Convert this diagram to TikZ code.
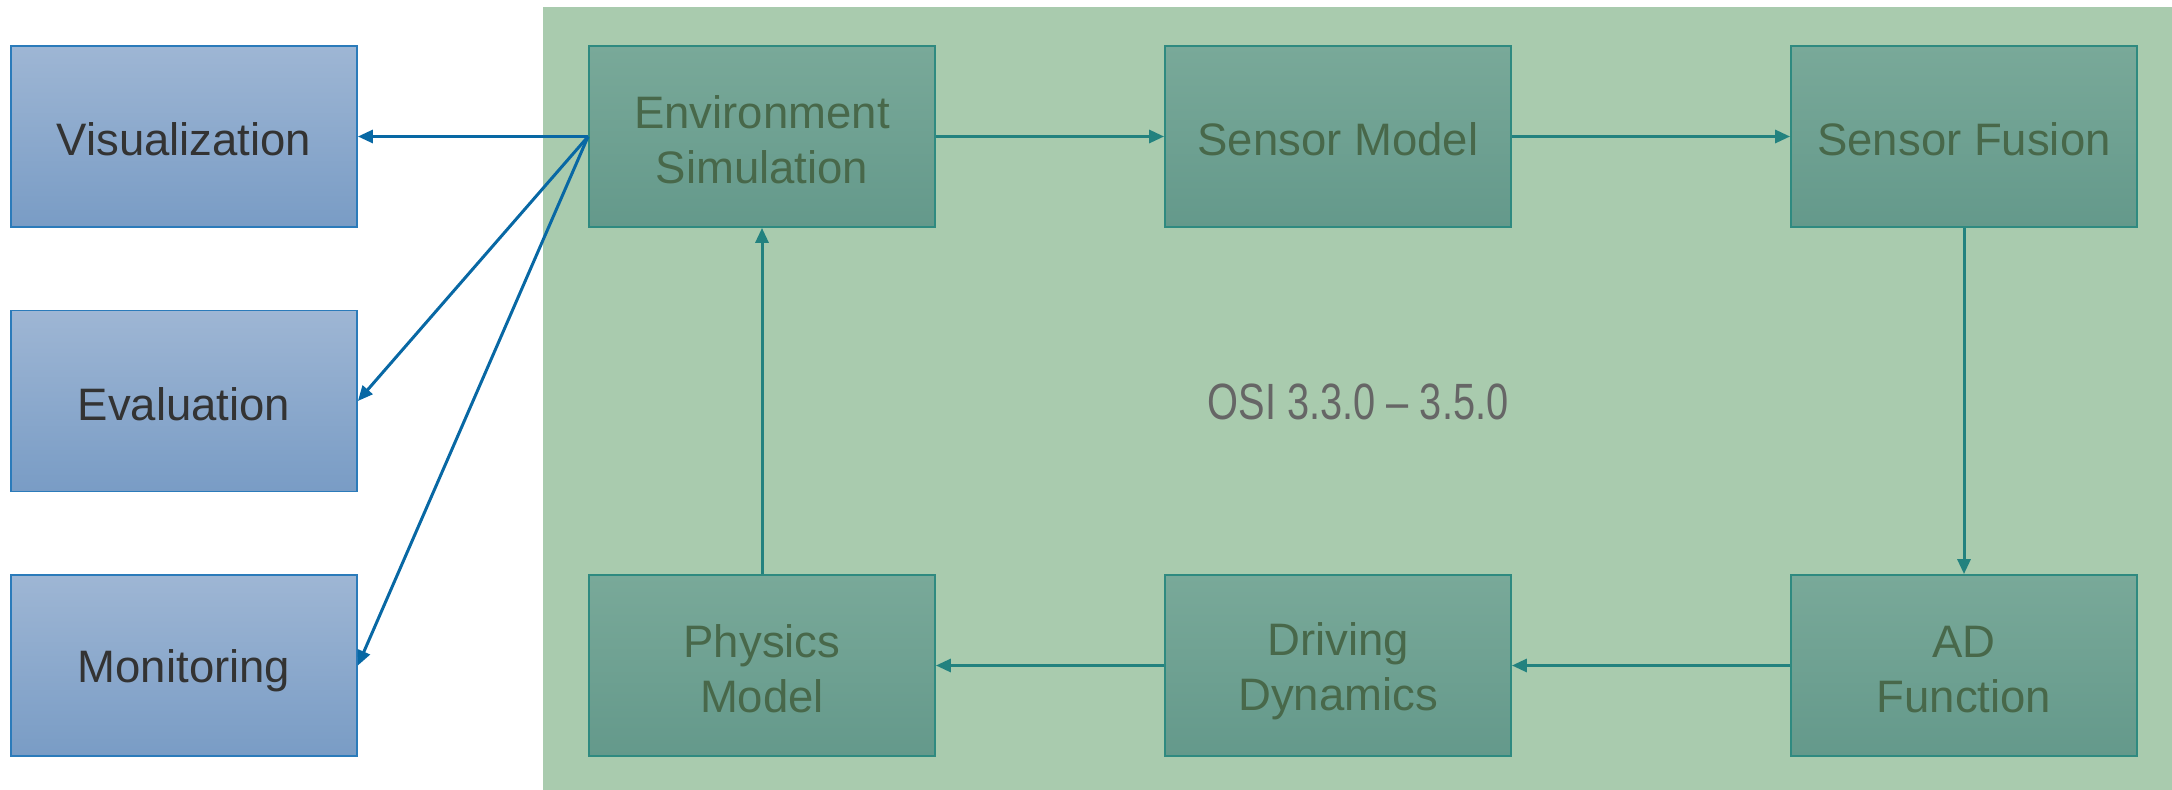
\documentclass[tikz,border=0pt]{standalone}
\usepackage{fontspec}
\usepackage{graphicx}
\setmainfont{Liberation Sans}
\usetikzlibrary{arrows.meta}

\definecolor{bgGreen}{RGB}{169,203,174}
\definecolor{boxTop}{RGB}{121,169,153}
\definecolor{boxBot}{RGB}{100,153,139}
\definecolor{boxEdge}{RGB}{47,138,128}
\definecolor{boxText}{RGB}{72,104,74}
\definecolor{blueTop}{RGB}{158,182,212}
\definecolor{blueBot}{RGB}{121,156,197}
\definecolor{blueEdge}{RGB}{43,123,186}
\definecolor{blueLine}{RGB}{8,104,164}
\definecolor{tealLine}{RGB}{35,130,127}
\definecolor{osiGray}{RGB}{102,102,102}

% one line of box text with a fixed height and depth
\newcommand{\bline}[1]{\vrule height 44pt depth 6pt width 0pt#1}

\tikzset{
  basebox/.style={rectangle, minimum width=346pt, minimum height=181pt,
    inner sep=0pt, line width=1.8pt, align=center,
    font=\fontsize{45.5pt}{55pt}\selectfont},
  simbox/.style={basebox, draw=boxEdge, top color=boxTop, bottom color=boxBot,
    text=boxText},
  viewbox/.style={basebox, draw=blueEdge, top color=blueTop, bottom color=blueBot,
    text={rgb,255:red,51;green,51;blue,51}},
  flow/.style={draw=tealLine, line width=3pt,
    -{Triangle[length=15pt,width=13pt]}},
  feed/.style={draw=blueLine, line width=3pt,
    -{Triangle[length=15pt,width=13pt]}},
  osilabel/.style={text=osiGray, font=\fontsize{51pt}{60pt}\selectfont}
}

\begin{document}
\begin{tikzpicture}[x=1pt,y=-1pt]
\useasboundingbox (0,0) rectangle (2172,790);

% simulation area
\fill[bgGreen] (543,7) rectangle (2172,790);

% output boxes
\node[viewbox] (vis)  at (184,136.5) {\bline{Visualization}};
\node[viewbox] (eval) at (184,401)   {\bline{Evaluation}};
\node[viewbox] (mon)  at (184,665.5) {\bline{Monitoring}};

% simulation chain
\node[simbox] (env)  at (762,136.5)  {\bline{Environment}\\\bline{Simulation}};
\node[simbox] (sm)   at (1338,136.5) {\bline{Sensor Model}};
\node[simbox] (sf)   at (1964,136.5) {\bline{Sensor Fusion}};
\node[simbox] (phys) at (762,665.5)  {\bline{Physics}\\\bline{Model}};
\node[simbox] (dd)   at (1338,665.5) {\bline{Driving}\\\bline{Dynamics}};
\node[simbox] (ad)   at (1964,665.5) {\bline{AD}\\\bline{Function}};

\node[osilabel] (osi) at (1358,402) {\scalebox{0.78}[1]{OSI 3.3.0 – 3.5.0}};

% closed loop
\draw[flow] (env.east) -- (sm.west);
\draw[flow] (sm.east) -- (sf.west);
\draw[flow] (sf.south) -- (ad.north);
\draw[flow] (ad.west) -- (dd.east);
\draw[flow] (dd.west) -- (phys.east);
\draw[flow] (phys.north) -- (env.south);

% outputs
\draw[feed] (env.west) -- (vis.east);
\draw[feed] (env.west) -- (eval.east);
\draw[feed] (env.west) -- (mon.east);
\end{tikzpicture}
\end{document}
